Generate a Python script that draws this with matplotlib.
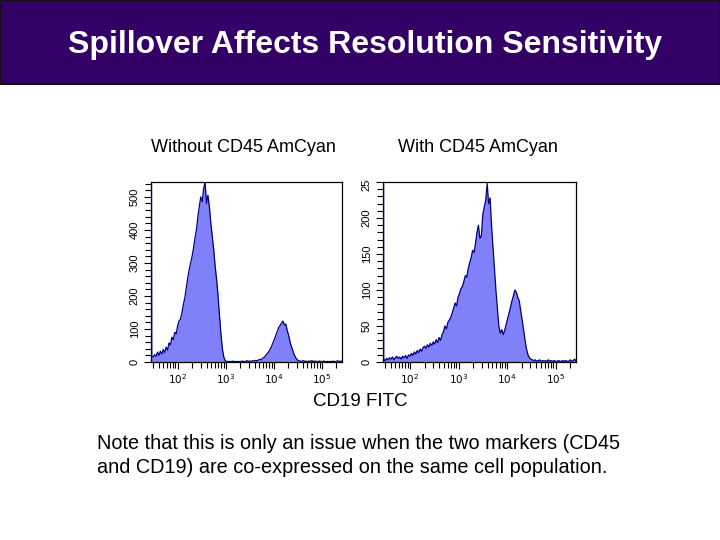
import numpy as np
import matplotlib
matplotlib.use("Agg")
import matplotlib.pyplot as plt
from matplotlib.patches import Rectangle
from matplotlib.ticker import LogLocator, MultipleLocator, FixedLocator
from matplotlib.transforms import Bbox, TransformedBbox

plt.rcParams['font.family'] = ['Liberation Sans', 'DejaVu Sans']

# log10(CD19 FITC) bin centres shared by both histograms
bin_log = np.linspace(1.46, 5.42, 133)

# event counts per bin
counts_without = [
    18, 15, 22, 17, 30,
    20, 33, 24, 38, 28, 45, 36,
    58, 52, 75, 68, 90, 85, 110,
    125, 130, 150, 175, 195, 225, 255,
    280, 300, 320, 345, 375, 400, 440,
    470, 500, 485, 525, 545, 480, 505,
    470, 420, 380, 340, 290, 250, 200,
    140, 85, 40, 15, 4, 2, 1,
    2, 1, 3, 1, 2, 1, 2,
    1, 2, 3, 1, 2, 4, 2,
    3, 2, 4, 3, 5, 4, 6,
    8, 7, 12, 14, 20, 25, 30,
    38, 46, 58, 68, 80, 92, 105,
    110, 118, 124, 112, 115, 95, 80,
    60, 45, 32, 20, 12, 6, 4,
    3, 2, 4, 2, 3, 1, 3,
    2, 4, 2, 3, 2, 1, 3,
    2, 1, 3, 2, 1, 2, 1,
    2, 1, 3, 1, 2, 4, 1,
    3, 2,
]

counts_with = [
    4, 2, 5, 3, 6,
    4, 7, 3, 6, 8, 5, 7,
    4, 8, 6, 9, 5, 10, 8,
    12, 9, 14, 11, 16, 13, 18,
    15, 20, 22, 19, 24, 21, 26,
    23, 28, 25, 31, 27, 34, 30,
    38, 42, 50, 46, 55, 58, 62,
    68, 75, 82, 78, 90, 95, 102,
    105, 112, 120, 118, 130, 138, 145,
    155, 152, 165, 180, 190, 172, 175,
    205, 215, 225, 248, 220, 228, 190,
    160, 130, 100, 75, 50, 40, 45,
    38, 44, 52, 60, 68, 76, 85,
    92, 100, 97, 90, 85, 72, 60,
    45, 30, 18, 10, 6, 4, 3,
    2, 3, 1, 2, 3, 1, 2,
    1, 2, 1, 3, 1, 2, 1,
    2, 1, 1, 2, 1, 1, 2,
    1, 2, 1, 1, 3, 1, 2,
    4, 1,
]

# off-scale pile-up in the first channel (drawn as the tall line at the left edge)
first_channel_log = 1.445
first_channel_counts = [1500, 1500]

panel_titles = ['Without CD45 AmCyan', 'With CD45 AmCyan']
y_max = [545, 250]
y_major = [100, 50]
y_minor = [20, 10]

fig = plt.figure(figsize=(7.2, 5.4), dpi=100)

# title banner
fig.patches.append(Rectangle((0, 0.8444), 1, 0.1556, transform=fig.transFigure,
                             facecolor='#330066', edgecolor='#111111', lw=1.5))
fig.text(0.507, 0.917, 'Spillover Affects Resolution Sensitivity', color='white',
         fontsize=23, fontweight='bold', ha='center', va='center')

axes_rects = [[0.2097, 0.3296, 0.2653, 0.3333],
              [0.5319, 0.3296, 0.2681, 0.3333]]
title_x = [0.3375, 0.664]

for i, counts in enumerate([counts_without, counts_with]):
    ax = fig.add_axes(axes_rects[i])
    xs = np.concatenate([[first_channel_log], bin_log])
    ys = np.concatenate([[first_channel_counts[i]], counts])
    xv = 10 ** xs
    ax.fill_between(xv, 0, ys, color='#8080f8', lw=0)
    ax.plot(xv, ys, color='#000080', lw=0.9)
    ax.plot([xv[0], xv[0]], [0, 2000], color='#2020c0', lw=1.5)

    ax.set_xscale('log')
    ax.set_xlim(10 ** 1.445, 262144)
    ax.set_ylim(0, y_max[i])

    ax.xaxis.set_major_locator(FixedLocator([1e2, 1e3, 1e4, 1e5]))
    ax.xaxis.set_minor_locator(LogLocator(base=10, subs=np.arange(2, 10)))
    ax.set_xticklabels([r'$10^{2}$', r'$10^{3}$', r'$10^{4}$', r'$10^{5}$'])
    ax.yaxis.set_major_locator(MultipleLocator(y_major[i]))
    ax.yaxis.set_minor_locator(MultipleLocator(y_minor[i]))

    ax.tick_params(axis='x', which='major', direction='out', length=5,
                   width=0.8, labelsize=7.5, pad=2)
    ax.tick_params(axis='y', which='major', direction='out', length=5,
                   width=0.8, labelsize=8, pad=3)
    ax.tick_params(axis='both', which='minor', direction='out', length=4,
                   width=0.8)
    for lab in ax.get_yticklabels():
        lab.set_rotation(90)
        lab.set_va('center')
    for sp in ax.spines.values():
        sp.set_linewidth(0.9)

    # top label of the right panel is cut by the frame, as in the reference
    clip = TransformedBbox(Bbox([[-0.5, -0.5], [1.0, 1.01]]), ax.transAxes)
    for lab in ax.get_yticklabels():
        lab.set_clip_box(clip)
        lab.set_clip_on(True)

    fig.text(title_x[i], 0.726, panel_titles[i], fontsize=13,
             ha='center', va='center')

fig.text(0.501, 0.2556, 'CD19 FITC', fontsize=13.5, ha='center', va='center')
fig.text(0.1347, 0.178, 'Note that this is only an issue when the two markers (CD45',
         fontsize=14.3, ha='left', va='center')
fig.text(0.1347, 0.135, 'and CD19) are co-expressed on the same cell population.',
         fontsize=14.3, ha='left', va='center')

fig.savefig('out.png', dpi=100)
